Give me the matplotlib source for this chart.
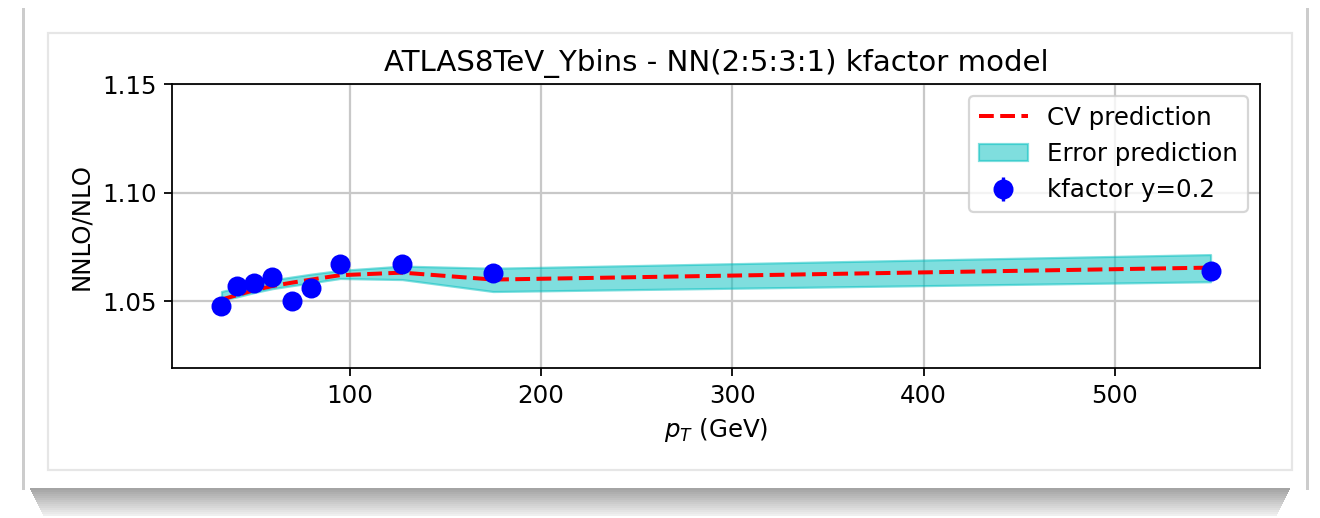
# NN kfactor model prediction vs kfactor points (ATLAS 8 TeV, y bin 0.2)

import matplotlib
matplotlib.use('Agg')
import matplotlib.pyplot as plt
from matplotlib.patches import Rectangle

# kfactor points
pt_points = [33, 41, 50, 59.5, 70, 80, 95, 127.5, 175, 550]
kfactor = [1.0477, 1.0570, 1.0582, 1.0612, 1.0500, 1.0559, 1.0671, 1.0671, 1.0630, 1.0640]
kfactor_err = [0.0] * len(pt_points)

# NN prediction: central value and error band
cv_pred = [1.0508, 1.0528, 1.0551, 1.0570, 1.0586, 1.0600, 1.0620, 1.0632, 1.0600, 1.0655]
band_up = [1.0545, 1.0562, 1.0580, 1.0598, 1.0612, 1.0625, 1.0642, 1.0662, 1.0652, 1.0715]
band_lo = [1.0505, 1.0520, 1.0540, 1.0558, 1.0572, 1.0585, 1.0605, 1.0600, 1.0545, 1.0590]

W, H = 1320, 518

plt.rcParams['font.size'] = 11
plt.rcParams['axes.titlesize'] = 13.2
plt.rcParams['grid.color'] = '#c8c8c8'
plt.rcParams['grid.linewidth'] = 1.0


def px(x, y, w, h):
    # pixel box (top-left origin) -> figure fraction box
    return (x / W, 1 - (y + h) / H), w / W, h / H


def draw_card(fig):
    # soft shadow under the card
    for i in range(14):
        (x0, y0), w, h = px(30 + i, 488 + 2 * i, 1260 - 2 * i, 2)
        fig.patches.append(Rectangle((x0, y0), w, h, transform=fig.transFigure,
                                     color='0.35', alpha=0.55 - 0.035 * i, lw=0, zorder=-3))
    # side edges of the card
    for xs in (22, 1306):
        (x0, y0), w, h = px(xs, 8, 3, 482)
        fig.patches.append(Rectangle((x0, y0), w, h, transform=fig.transFigure,
                                     color='0.8', lw=0, zorder=-2))
    # inner panel border
    (x0, y0), w, h = px(48, 33, 1244, 437)
    fig.patches.append(Rectangle((x0, y0), w, h, transform=fig.transFigure,
                                 fill=False, ec='0.9', lw=1.0, zorder=-1))


def main():
    fig = plt.figure(figsize=(W / 160, H / 160), dpi=160)
    draw_card(fig)

    ax = fig.add_axes([172 / W, 1 - 368 / H, (1260 - 172) / W, (368 - 84) / H])

    ax.plot(pt_points, cv_pred, 'r--', lw=1.8, label='CV prediction')
    ax.fill_between(pt_points, band_lo, band_up, color='c', alpha=0.5, label='Error prediction')
    ax.errorbar(pt_points, kfactor, yerr=kfactor_err, fmt='o', color='blue',
                ms=8, label='kfactor y=0.2')

    ax.set_title('ATLAS8TeV_Ybins - NN(2:5:3:1) kfactor model')
    ax.set_xlabel('$p_T$ (GeV)')
    ax.set_ylabel('NNLO/NLO')
    ax.set_ylim(1.0193, 1.15)
    ax.set_yticks([1.05, 1.10, 1.15])
    ax.grid(True)
    ax.set_axisbelow(True)
    ax.legend(loc='upper right')

    fig.savefig('out.png', dpi=160, facecolor='white')


if __name__ == "__main__":
    main()
